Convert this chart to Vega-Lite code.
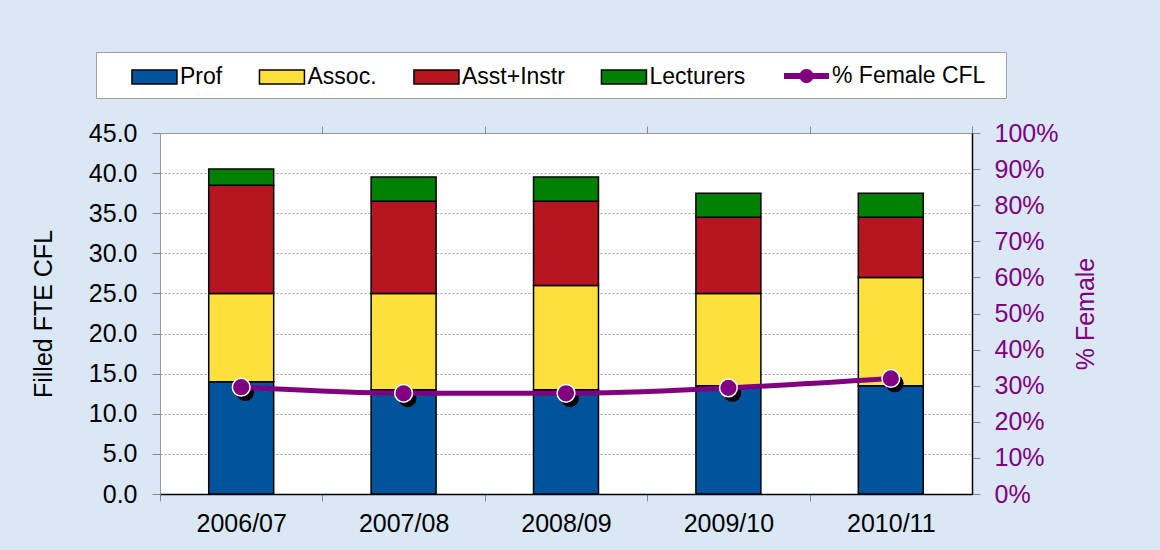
{
  "$schema": "https://vega.github.io/schema/vega-lite/v6.json",
  "width": 812,
  "height": 361,
  "autosize": {"type": "none"},
  "padding": {"left": 160, "top": 133, "right": 188, "bottom": 56},
  "background": "#dae7f4",
  "config": {
    "font": "Liberation Sans",
    "view": {"fill": "white", "stroke": "#999999", "strokeWidth": 1}
  },
  "datasets": {
    "staff": [
      {"year": "2006/07", "role": "Prof", "fte": 14},
      {"year": "2006/07", "role": "Assoc.", "fte": 11},
      {"year": "2006/07", "role": "Asst+Instr", "fte": 13.5},
      {"year": "2006/07", "role": "Lecturers", "fte": 2},
      {"year": "2007/08", "role": "Prof", "fte": 13},
      {"year": "2007/08", "role": "Assoc.", "fte": 12},
      {"year": "2007/08", "role": "Asst+Instr", "fte": 11.5},
      {"year": "2007/08", "role": "Lecturers", "fte": 3},
      {"year": "2008/09", "role": "Prof", "fte": 13},
      {"year": "2008/09", "role": "Assoc.", "fte": 13},
      {"year": "2008/09", "role": "Asst+Instr", "fte": 10.5},
      {"year": "2008/09", "role": "Lecturers", "fte": 3},
      {"year": "2009/10", "role": "Prof", "fte": 13.5},
      {"year": "2009/10", "role": "Assoc.", "fte": 11.5},
      {"year": "2009/10", "role": "Asst+Instr", "fte": 9.5},
      {"year": "2009/10", "role": "Lecturers", "fte": 3},
      {"year": "2010/11", "role": "Prof", "fte": 13.5},
      {"year": "2010/11", "role": "Assoc.", "fte": 13.5},
      {"year": "2010/11", "role": "Asst+Instr", "fte": 7.5},
      {"year": "2010/11", "role": "Lecturers", "fte": 3}
    ],
    "female": [
      {"year": "2006/07", "pct": 0.296},
      {"year": "2007/08", "pct": 0.279},
      {"year": "2008/09", "pct": 0.279},
      {"year": "2009/10", "pct": 0.294},
      {"year": "2010/11", "pct": 0.32}
    ]
  },
  "layer": [
    {
      "data": {"name": "staff"},
      "transform": [
        {"calculate": "indexof(['Prof','Assoc.','Asst+Instr','Lecturers'], datum.role)", "as": "stackRank"}
      ],
      "mark": {"type": "bar", "stroke": "black", "strokeWidth": 1.5},
      "encoding": {
        "x": {
          "field": "year",
          "type": "nominal",
          "scale": {"paddingInner": 0.6, "paddingOuter": 0.3},
          "axis": {
            "title": null,
            "labelAngle": 0,
            "labelFontSize": 25,
            "labelColor": "black",
            "labelPadding": 10,
            "bandPosition": 0,
            "tickOffset": -48.7,
            "labelOffset": 48.7,
            "tickSize": 7,
            "tickColor": "#888888",
            "domainColor": "black",
            "domainWidth": 1.5
          }
        },
        "y": {
          "field": "fte",
          "type": "quantitative",
          "stack": "zero",
          "scale": {"domain": [0, 45], "nice": false},
          "axis": {
            "title": "Filled FTE CFL",
            "titleFontSize": 25,
            "titleFontWeight": "normal",
            "titleColor": "black",
            "titlePadding": 32,
            "labelFontSize": 25,
            "labelColor": "black",
            "labelPadding": 15,
            "format": ".1f",
            "values": [0, 5, 10, 15, 20, 25, 30, 35, 40, 45],
            "tickSize": 8,
            "tickColor": "#888888",
            "domain": false,
            "grid": true,
            "gridColor": "#999999",
            "gridDash": [2, 2],
            "gridWidth": 1
          }
        },
        "order": {"field": "stackRank", "type": "quantitative", "sort": "ascending"},
        "color": {
          "field": "role",
          "type": "nominal",
          "scale": {
            "domain": ["Prof", "Assoc.", "Asst+Instr", "Lecturers"],
            "range": ["#01539b", "#fce13c", "#b5161f", "#008000"]
          },
          "legend": {
            "orient": "none",
            "legendX": -64,
            "legendY": -81,
            "direction": "horizontal",
            "title": " ",
            "titleOrient": "right",
            "titlePadding": 252,
            "padding": 9,
            "fillColor": "white",
            "strokeColor": "#a0a0a0",
            "labelFontSize": 23,
            "labelColor": "black",
            "labelOffset": 43,
            "labelLimit": 400,
            "symbolSize": 900,
            "columnPadding": 9.5,
            "symbolType": "M0.73,-0.47H3.73V0.47H0.73Z"
          }
        }
      }
    },
    {
      "data": {"name": "female"},
      "encoding": {
        "x": {
          "field": "year",
          "type": "nominal",
          "axis": {
            "title": null,
            "labels": false,
            "domain": false,
            "bandPosition": 1,
            "tickOffset": 48.7,
            "tickSize": 7,
            "tickColor": "#888888"
          }
        },
        "y": {
          "field": "pct",
          "type": "quantitative",
          "scale": {"domain": [0, 1], "nice": false},
          "axis": {
            "orient": "right",
            "title": "% Female",
            "titleFontSize": 25,
            "titleFontWeight": "normal",
            "titleColor": "#800080",
            "titleAngle": 270,
            "titleBaseline": "top",
            "titlePadding": 16,
            "labelFontSize": 25,
            "labelColor": "#800080",
            "labelPadding": 14,
            "format": ".0%",
            "values": [0, 0.1, 0.2, 0.3, 0.4, 0.5, 0.6, 0.7, 0.8, 0.9, 1],
            "tickSize": 8,
            "tickColor": "#888888",
            "domainColor": "black",
            "domainWidth": 1.5,
            "grid": false
          }
        }
      },
      "layer": [
        {"mark": {"type": "circle", "size": 314, "color": "black", "opacity": 1, "xOffset": 4, "yOffset": 5}},
        {"mark": {"type": "line", "color": "#800080", "strokeWidth": 5, "interpolate": "monotone"}},
        {
          "mark": {"type": "circle", "size": 314, "opacity": 1, "stroke": "white", "strokeWidth": 1.5},
          "encoding": {
            "fill": {
              "datum": "% Female CFL",
              "scale": {"range": ["#800080"]},
              "legend": {
                "orient": "none",
                "legendX": 631.5,
                "legendY": -72,
                "title": null,
                "padding": 0,
                "labelFontSize": 23,
                "labelColor": "black",
                "labelOffset": 10.5,
                "labelLimit": 400,
                "symbolSize": 900,
                "symbolStrokeColor": "#800080",
                "symbolStrokeWidth": 0,
                "symbolType": "M-1.5,-0.2H1.5V0.2H-1.5Z M-0.47,0A0.47,0.47 0 1,1 0.47,0A0.47,0.47 0 1,1 -0.47,0Z"
              }
            }
          }
        }
      ]
    }
  ],
  "resolve": {"scale": {"y": "independent"}, "axis": {"x": "independent"}}
}
